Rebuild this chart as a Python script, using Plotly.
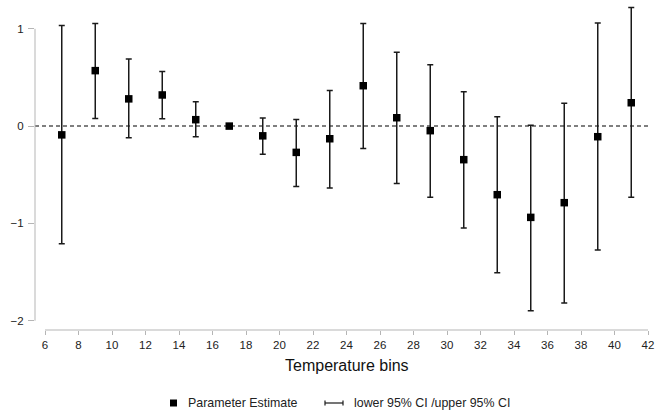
import plotly.graph_objects as go

# Temperature bins (degrees) and regression results
bins = [7, 9, 11, 13, 15, 17, 19, 21, 23, 25, 27, 29, 31, 33, 35, 37, 39, 41]
estimate = [-0.09, 0.57, 0.28, 0.32, 0.066, 0.0, -0.10, -0.27, -0.13, 0.415, 0.086,
            -0.047, -0.345, -0.705, -0.938, -0.787, -0.109, 0.24]
ci_upper = [1.035, 1.055, 0.69, 0.56, 0.25, 0.0, 0.082, 0.069, 0.367, 1.055, 0.76,
            0.63, 0.353, 0.096, 0.01, 0.236, 1.059, 1.22]
ci_lower = [-1.21, 0.079, -0.12, 0.076, -0.11, 0.0, -0.29, -0.62, -0.637, -0.23, -0.59,
            -0.73, -1.048, -1.507, -1.897, -1.819, -1.274, -0.73]

x_ticks = list(range(6, 43, 2))
y_ticks = [-2, -1, 0, 1]
y_tick_text = ["\u22122", "\u22121", "0", "1"]

W, H = 655, 417
ML, MR, MT, MB = 35, 5, 2, 87
PW, PH = W - ML - MR, H - MT - MB

FONT = "Liberation Sans, Arial, Helvetica, sans-serif"
AXIS_GREY = "#b5b5b5"
LEGEND_SIZE = 12.4

err_plus = [u - e for u, e in zip(ci_upper, estimate)]
err_minus = [e - l for e, l in zip(estimate, ci_lower)]

fig = go.Figure()
fig.add_trace(go.Scatter(
    x=bins, y=estimate, mode="markers",
    marker=dict(symbol="square", size=7.5, color="black"),
    error_y=dict(type="data", symmetric=False, array=err_plus, arrayminus=err_minus,
                 color="#1a1a1a", thickness=1.5, width=3),
    showlegend=False,
))


def px(xp):
    return (xp - ML) / PW


def py(yp):
    return (H - MB - yp) / PH


shapes = [
    # zero reference line
    dict(type="line", xref="paper", yref="y", x0=0, x1=1, y0=0, y1=0,
         line=dict(color="#555555", width=1.5, dash="4px,3px"), layer="below"),
    # range-frame axis lines
    dict(type="line", xref="paper", yref="y", x0=0, x1=0, y0=-2, y1=1,
         line=dict(color=AXIS_GREY, width=1)),
    dict(type="line", xref="x", yref="paper", x0=6, x1=42, y0=0, y1=0,
         line=dict(color=AXIS_GREY, width=1)),
    # legend symbols
    dict(type="rect", xref="paper", yref="paper", x0=px(170), x1=px(177),
         y0=py(406.5), y1=py(399.5), fillcolor="black", line=dict(width=0)),
    dict(type="line", xref="paper", yref="paper", x0=px(325), x1=px(343),
         y0=py(403), y1=py(403), line=dict(color="#1a1a1a", width=1.2)),
    dict(type="line", xref="paper", yref="paper", x0=px(325), x1=px(325),
         y0=py(400.5), y1=py(405.5), line=dict(color="#1a1a1a", width=1.2)),
    dict(type="line", xref="paper", yref="paper", x0=px(343), x1=px(343),
         y0=py(400.5), y1=py(405.5), line=dict(color="#1a1a1a", width=1.2)),
]

annotations = [
    dict(text="Temperature bins", xref="x", yref="paper", x=24, y=py(365),
         xanchor="center", yanchor="middle", showarrow=False,
         font=dict(size=16, color="#111111", family=FONT)),
    dict(text="Parameter Estimate", xref="paper", yref="paper", x=px(186), y=py(403),
         xanchor="left", yanchor="middle", showarrow=False,
         font=dict(size=LEGEND_SIZE, color="#222222", family=FONT)),
    dict(text="lower 95% CI /upper 95% CI", xref="paper", yref="paper", x=px(352),
         y=py(403), xanchor="left", yanchor="middle", showarrow=False,
         font=dict(size=LEGEND_SIZE, color="#222222", family=FONT)),
]

x_left = 6 - (45 - ML) / 16.75
x_right = x_left + PW / 16.75
unit_y = 97.3
y_bottom = -2 - (330 - 320.7) / unit_y
y_top = y_bottom + PH / unit_y

fig.update_layout(
    width=W, height=H,
    margin=dict(l=ML, r=MR, t=MT, b=MB),
    paper_bgcolor="white", plot_bgcolor="white",
    font=dict(family=FONT, size=11.5, color="#222222"),
    shapes=shapes, annotations=annotations,
    xaxis=dict(range=[x_left, x_right], tickmode="array", tickvals=x_ticks,
               ticks="outside", ticklen=4, tickcolor=AXIS_GREY, tickwidth=1,
               showline=False, showgrid=False, zeroline=False,
               tickfont=dict(size=11.5, color="#222222")),
    yaxis=dict(range=[y_bottom, y_top], tickmode="array", tickvals=y_ticks,
               ticktext=y_tick_text, ticks="outside", ticklen=6,
               ticklabelstandoff=2,
               tickcolor=AXIS_GREY, tickwidth=1,
               showline=False, showgrid=False, zeroline=False,
               tickfont=dict(size=11.5, color="#222222")),
)

fig.write_html("out.html")
